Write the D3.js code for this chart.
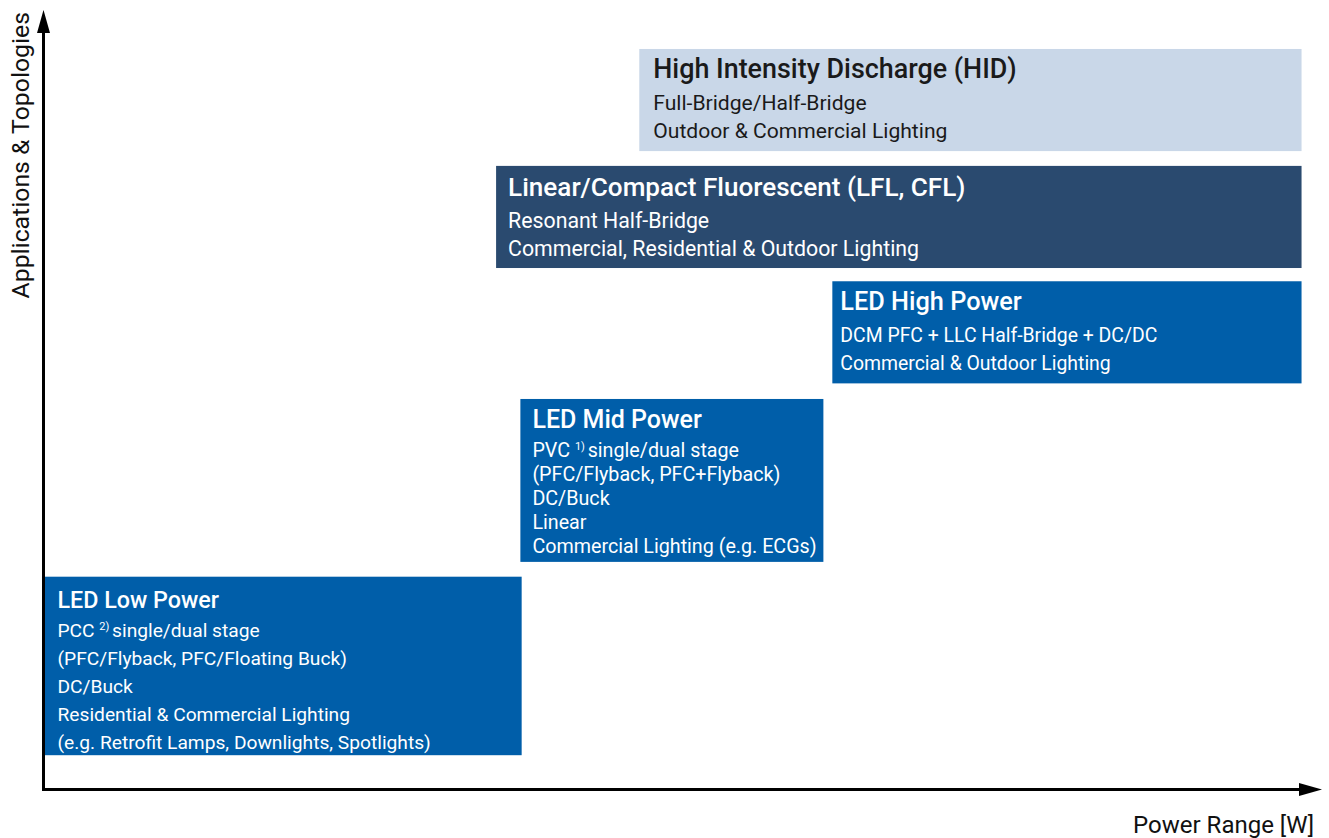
<!DOCTYPE html>
<html>
<head>
<meta charset="utf-8">
<script src="https://cdn.jsdelivr.net/npm/d3@7"></script>
<style>
  html, body { margin: 0; padding: 0; background: #fff; }
  svg { display: block; }
  text { font-family: Roboto, "Noto Sans", sans-serif; }
</style>
</head>
<body>
<svg id="chart" width="1329" height="838"></svg>
<script>
// ---- data ----
const categories = [
  "LED Low Power",
  "LED Mid Power",
  "LED High Power",
  "Linear/Compact Fluorescent (LFL, CFL)",
  "High Intensity Discharge (HID)"
];
// power range (relative units along the x axis)
const powerStart = [0, 37.3, 61.7, 35.4, 46.6];
const powerEnd   = [37.4, 61.0, 98.4, 98.4, 98.4];
// application/topology level (relative units along the y axis)
const levelLow  = [4.4, 29.2, 52.1, 66.9, 81.9];
const levelHigh = [27.3, 50.1, 65.2, 80.0, 95.0];
// description lines; "^{..}" marks a superscript
const descriptions = [
  ["PCC ^{2)} single/dual stage", "(PFC/Flyback, PFC/Floating Buck)", "DC/Buck",
   "Residential & Commercial Lighting", "(e.g. Retrofit Lamps, Downlights, Spotlights)"],
  ["PVC ^{1)} single/dual stage", "(PFC/Flyback, PFC+Flyback)", "DC/Buck", "Linear",
   "Commercial Lighting (e.g. ECGs)"],
  ["DCM PFC + LLC Half-Bridge + DC/DC", "Commercial & Outdoor Lighting"],
  ["Resonant Half-Bridge", "Commercial, Residential & Outdoor Lighting"],
  ["Full-Bridge/Half-Bridge", "Outdoor & Commercial Lighting"]
];
const xAxisTitle = "Power Range [W]";
const yAxisTitle = "Applications & Topologies";

// ---- styles / layout ----
const fills     = ["#005EA9", "#005EA9", "#005EA9", "#2A4A6F", "#C9D7E8"];
const textFills = ["#ffffff", "#ffffff", "#ffffff", "#ffffff", "#1a1a1a"];
const padLeft   = [14, 12, 8, 12, 14];
const titleOff  = [31, 29, 29, 30, 29];
const firstGap  = [29, 29, 32, 32, 32];
const lineGap   = [28, 24, 28, 28, 28];
const titleSize = [23.3, 25, 25.3, 26.1, 26.9];
const bodySize  = [19.2, 19.7, 19.4, 21.3, 21.1];

const svg = d3.select("#chart");
const x = d3.scaleLinear().domain([0, 100]).range([43.5, 1322]);
const y = d3.scaleLinear().domain([0, 100]).range([789.5, 10]);

const boxes = categories.map((c, i) => ({
  title: c, x0: powerStart[i], x1: powerEnd[i], y0: levelLow[i], y1: levelHigh[i],
  lines: descriptions[i], i
}));

const g = svg.selectAll("g.box").data(boxes).join("g").attr("class", "box");
g.append("rect")
  .attr("x", d => x(d.x0))
  .attr("y", d => y(d.y1))
  .attr("width", d => x(d.x1) - x(d.x0))
  .attr("height", d => y(d.y0) - y(d.y1))
  .attr("fill", d => fills[d.i]);

g.append("text")
  .attr("x", d => x(d.x0) + padLeft[d.i])
  .attr("y", d => y(d.y1) + titleOff[d.i])
  .attr("fill", d => textFills[d.i])
  .attr("font-size", d => titleSize[d.i])
  .attr("font-weight", 500)
  .text(d => d.title);

g.each(function(d) {
  const sel = d3.select(this);
  d.lines.forEach((ln, k) => {
    const t = sel.append("text")
      .attr("x", x(d.x0) + padLeft[d.i])
      .attr("y", y(d.y1) + titleOff[d.i] + firstGap[d.i] + k * lineGap[d.i])
      .attr("fill", textFills[d.i])
      .attr("font-size", bodySize[d.i]);
    const parts = ln.split(/(\^\{[^}]*\})/);
    let pendingDy = 0;
    parts.forEach(p => {
      if (!p) return;
      const m = p.match(/^\^\{([^}]*)\}$/);
      if (m) {
        t.append("tspan").attr("font-size", 11).attr("dy", -7).text(m[1] + " ");
        pendingDy = 7;
      } else {
        const s = pendingDy ? p.replace(/^ /, "") : p;
        const ts = t.append("tspan").text(s);
        if (pendingDy) { ts.attr("dy", pendingDy); pendingDy = 0; }
      }
    });
  });
});

// ---- axes with arrows ----
const ax = svg.append("g");
ax.append("line")
  .attr("x1", x(0)).attr("y1", y(0) + 1.5)
  .attr("x2", x(0)).attr("y2", y(100) + 20)
  .attr("stroke", "#000").attr("stroke-width", 3);
ax.append("path")
  .attr("d", `M${x(0)},${y(100)} L${x(0) - 6.5},${y(100) + 23} L${x(0) + 6.5},${y(100) + 23} Z`)
  .attr("fill", "#000");
ax.append("line")
  .attr("x1", x(0) - 1.5).attr("y1", y(0))
  .attr("x2", x(100) - 20).attr("y2", y(0))
  .attr("stroke", "#000").attr("stroke-width", 3);
ax.append("path")
  .attr("d", `M${x(100)},${y(0)} L${x(100) - 23},${y(0) - 6.5} L${x(100) - 23},${y(0) + 6.5} Z`)
  .attr("fill", "#000");

svg.append("text")
  .attr("x", 1314).attr("y", 833)
  .attr("text-anchor", "end")
  .attr("font-size", 24)
  .attr("fill", "#111")
  .text(xAxisTitle);

svg.append("text")
  .attr("transform", "translate(29,12) rotate(-90)")
  .attr("text-anchor", "end")
  .attr("font-size", 24.8)
  .attr("fill", "#111")
  .text(yAxisTitle);
</script>
</body>
</html>
